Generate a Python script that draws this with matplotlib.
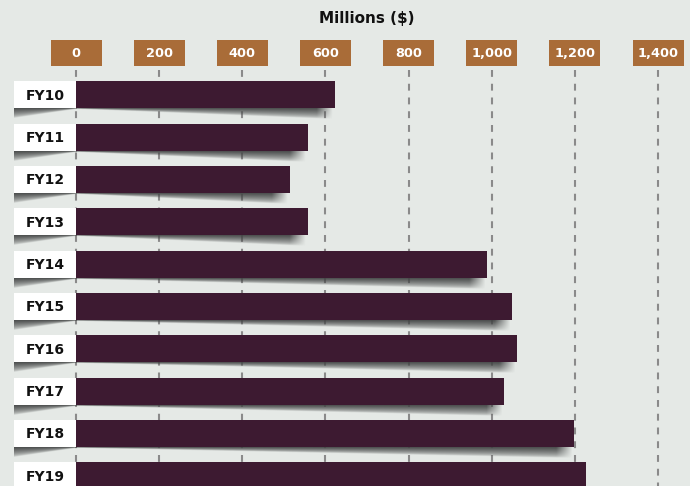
import numpy as np
import matplotlib
matplotlib.use("Agg")
import matplotlib.pyplot as plt
from matplotlib.patches import Rectangle

# ---- data ----
categories = ["FY10", "FY11", "FY12", "FY13", "FY14", "FY15", "FY16", "FY17", "FY18", "FY19"]
values = [622, 557, 514, 557, 989, 1049, 1061, 1030, 1198, 1227]
ticks = [0, 200, 400, 600, 800, 1000, 1200, 1400]
tick_labels = ["0", "200", "400", "600", "800", "1,000", "1,200", "1,400"]
axis_title = "Millions ($)"

BG = "#E5E9E6"
BAR = "#3D1A31"
BROWN = "#A96C38"
GRID = "#8A8A8A"

W, H = 690, 486
fig = plt.figure(figsize=(W / 100, H / 100), dpi=100, facecolor=BG)
ax = fig.add_axes([0, 0, 1, 1])
ax.set_facecolor(BG)

# pixel -> data mapping
px_per_unit = 582.0 / 1400.0
x0_px = 76.0
xmin = (0 - x0_px) / px_per_unit
xmax = (W - x0_px) / px_per_unit
y_first, y_step = 95.0, 42.3
ymin_top = (0 - y_first) / y_step
ymax_bot = (H - y_first) / y_step
ax.set_xlim(xmin, xmax)
ax.set_ylim(ymax_bot, ymin_top)
ax.axis("off")

ux = 1.0 / px_per_unit   # data units per px in x
uy = 1.0 / y_step        # data units per px in y

# grid lines
grid_top = (70 - y_first) / y_step
for t in ticks:
    ax.plot([t, t], [grid_top, ymax_bot], color=GRID, lw=1.5,
            linestyle=(0, (3.3, 3.3)), zorder=1)

# tick boxes
box_w = 51 * ux
box_top = (40 - y_first) / y_step
box_bot = (66 - y_first) / y_step
for t, lab in zip(ticks, tick_labels):
    ax.add_patch(Rectangle((t - box_w / 2, box_top), box_w, box_bot - box_top,
                           facecolor=BROWN, edgecolor="none", zorder=3))
    ax.text(t, (box_top + box_bot) / 2 + 0.02, lab, ha="center", va="center",
            color="white", fontsize=9.3, fontweight="bold", zorder=4,
            family="DejaVu Sans")

ax.text(700, (18 - y_first) / y_step, axis_title, ha="center", va="center",
        fontsize=11, fontweight="bold", color="#111111", family="DejaVu Sans")

bar_h = 27 / y_step
label_left = (14 - x0_px) / px_per_unit

def shadow(xa, xb, yb, d_left, d_right, fade_right_px=18, fade_left_px=0):
    nx, ny = 400, 50
    dmax = max(d_left, d_right)
    xs = np.linspace(xa, xb, nx)
    ys = np.linspace(yb, yb + dmax, ny)
    X, Y = np.meshgrid(xs, ys)
    frac = (X - xa) / (xb - xa)
    thick = d_left + (d_right - d_left) * frac
    tt = (Y - yb) / np.maximum(thick, 1e-9)
    alpha = np.clip(1 - tt, 0, 1) ** 0.6 * 0.95
    alpha[thick <= 1e-6] = 0
    if fade_right_px > 0:
        fr = np.clip((xb - X) / (fade_right_px * ux), 0, 1)
        alpha *= fr
    if fade_left_px > 0:
        fl = np.clip((X - xa) / (fade_left_px * ux), 0, 1)
        alpha *= fl
    img = np.zeros((ny, nx, 4))
    img[..., 0] = 0.26
    img[..., 1] = 0.27
    img[..., 2] = 0.27
    img[..., 3] = alpha
    ax.imshow(img, extent=(xa, xb, yb + dmax, yb), origin="upper",
              aspect="auto", interpolation="bilinear", zorder=2)

for i, (cat, v) in enumerate(zip(categories, values)):
    yc = i
    top = yc - bar_h / 2
    bot = yc + bar_h / 2
    # shadows
    shadow(0, v - 2 * ux, bot, 0.5 * uy, 11 * uy, fade_right_px=16)
    shadow(label_left, 0, bot, 10 * uy, 0.5 * uy, fade_right_px=0)
    # bar
    ax.barh(yc, v, height=bar_h, left=0, color=BAR, zorder=5)
    # label box
    ax.add_patch(Rectangle((label_left, top), -label_left, bar_h,
                           facecolor="white", edgecolor="none", zorder=5))
    ax.text(-11 * ux, yc + 0.02, cat, ha="right", va="center", fontsize=10,
            fontweight="bold", color="#111111", zorder=6, family="DejaVu Sans")

ax.set_xlim(xmin, xmax)
ax.set_ylim(ymax_bot, ymin_top)
fig.savefig("out.png", dpi=100, facecolor=BG)
